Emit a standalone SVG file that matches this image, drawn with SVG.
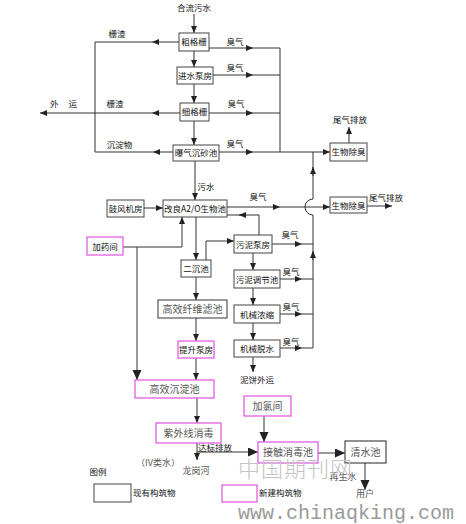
<svg xmlns="http://www.w3.org/2000/svg" width="466" height="524" viewBox="0 0 466 524">
<defs>
<marker id="a" markerUnits="userSpaceOnUse" markerWidth="8" markerHeight="6" refX="7" refY="3" orient="auto"><path d="M0,0 L7,3 L0,6 z" fill="#222"/></marker>
<marker id="A" markerUnits="userSpaceOnUse" markerWidth="10" markerHeight="10" refX="10" refY="4.5" orient="auto"><path d="M0,0 L10,4.5 L0,9 z" fill="#222"/></marker>
<style>
.b{fill:#fff;stroke:#444;stroke-width:1}
.n{fill:#fff;stroke:#e45ee4;stroke-width:1.3}
.t{font-family:"Noto Sans CJK SC","Liberation Sans",sans-serif;font-size:8.5px;fill:#111;text-anchor:middle}
.s{font-family:"Noto Sans CJK SC","Liberation Serif",serif;font-size:10px;fill:#555;text-anchor:middle}
.l{fill:none;stroke:#333;stroke-width:1}
.m{marker-mid:url(#a)}
.e{marker-end:url(#a)}
.E{marker-end:url(#A)}
</style>
</defs>
<g id="connectors">
<path class="l e" d="M194,14 V33"/>
<path class="l e" d="M194,51 V67"/>
<path class="l e" d="M194,84 V103"/>
<path class="l e" d="M194,121 V145"/>
<path class="l e" d="M195,161 V200"/>
<path class="l m" d="M179,42 L152,42 L95,42"/>
<path class="l" d="M95,42 V152"/>
<path class="l m" d="M173,152 L153,152 L95,152"/>
<path class="l m e" d="M180,113 L152,113 L40,113"/>
<path class="l m" d="M209,48 L253,48 L280,48"/>
<path class="l m" d="M213,75 L253,75 L280,75"/>
<path class="l m" d="M209,113 L253,113 L280,113"/>
<path class="l m e" d="M219,152 L253,152 L330,152"/>
<path class="l" d="M280,48 V152"/>
<path class="l e" d="M349,143 V127"/>
<path class="l" d="M313,152 V199 A8,8 0 0 0 313,215 V348"/>
<path class="l e" d="M313,176 V167"/>
<path class="l e" d="M313,260 V251"/>
<path class="l m e" d="M227,207 L280,207 L330,207"/>
<path class="l e" d="M367,206 H392"/>
<path class="l e" d="M144,208 H163"/>
<path class="l e" d="M123,247 H182 V217"/>
<path class="l E" d="M137,247 V380"/>
<path class="l e" d="M196,217 V260"/>
<path class="l" d="M259,235 V215 H227"/>
<path class="l e" d="M246,215 H239"/>
<path class="l e" d="M206,260 V241 H234"/>
<path class="l m" d="M272,244 L302,244 L313,244"/>
<path class="l e" d="M253,253 V270"/>
<path class="l m" d="M280,279 L302,279 L313,279"/>
<path class="l e" d="M253,288 V305"/>
<path class="l m" d="M280,314 L302,314 L313,314"/>
<path class="l e" d="M253,323 V340"/>
<path class="l m" d="M280,348 L302,348 L313,348"/>
<path class="l e" d="M253,357 V372"/>
<path class="l e" d="M196,277 V300"/>
<path class="l e" d="M196,318 V341"/>
<path class="l e" d="M196,358 V380"/>
<path class="l e" d="M197,398 V423"/>
<path class="l e" d="M197,443 V460"/>
<path class="l E" d="M197,452 H258"/>
<path class="l E" d="M264,416 V442"/>
<path class="l E" d="M318,453 H345"/>
<path class="l E" d="M365,463 V490"/>
</g>
<g id="n1"><rect class="b" x="179" y="33" width="30" height="18"/><text class="t" x="194" y="45">粗格栅</text></g>
<g id="n2"><rect class="b" x="177" y="67" width="36" height="17"/><text class="t" x="195" y="79">进水泵房</text></g>
<g id="n3"><rect class="b" x="180" y="103" width="29" height="18"/><text class="t" x="194.5" y="115">细格栅</text></g>
<g id="n4"><rect class="b" x="173" y="145" width="46" height="16"/><text class="t" x="196" y="156">曝气沉砂池</text></g>
<g id="n5"><rect class="b" x="330" y="143" width="37" height="18"/><text class="t" x="348.5" y="155">生物除臭</text></g>
<g id="n6"><rect class="b" x="330" y="197" width="37" height="16"/><text class="t" x="348.5" y="208.5">生物除臭</text></g>
<g id="n7"><rect class="b" x="107" y="200" width="37" height="17"/><text class="t" x="125.5" y="211.5">鼓风机房</text></g>
<g id="n8"><rect class="b" x="163" y="200" width="64" height="17"/><text class="t" x="195" y="211.5">改良A2/O生物池</text></g>
<g id="n9"><rect class="n" x="87" y="237" width="36" height="18"/><text class="t" x="105" y="249.5">加药间</text></g>
<g id="n10"><rect class="b" x="181" y="260" width="30" height="17"/><text class="t" x="196" y="271.5">二沉池</text></g>
<g id="n11"><rect class="b" x="234" y="235" width="38" height="18"/><text class="t" x="253" y="247.5">污泥泵房</text></g>
<g id="n12"><rect class="b" x="234" y="270" width="46" height="18"/><text class="t" x="257" y="282.5">污泥调节池</text></g>
<g id="n13"><rect class="b" x="234" y="305" width="46" height="18"/><text class="t" x="257" y="317.5">机械浓缩</text></g>
<g id="n14"><rect class="b" x="234" y="340" width="46" height="17"/><text class="t" x="257" y="352">机械脱水</text></g>
<g id="n15"><rect class="b" x="158" y="300" width="69" height="18" style="stroke:#3a303a"/><text class="s" x="192.5" y="313">高效纤维滤池</text></g>
<g id="n16"><rect class="n" x="178" y="341" width="36" height="17"/><text class="t" x="196" y="353">提升泵房</text></g>
<g id="n17"><rect class="n" x="135" y="380" width="79" height="18"/><text class="s" x="174.5" y="393">高效沉淀池</text></g>
<g id="n18"><rect class="n" x="156" y="423" width="65" height="20"/><text class="s" x="188.5" y="437">紫外线消毒</text></g>
<g id="n19"><rect class="n" x="244" y="396" width="47" height="20"/><text class="s" x="267.5" y="410">加氯间</text></g>
<g id="n20"><rect class="n" x="258" y="442" width="60" height="21"/><text class="s" x="288" y="456">接触消毒池</text></g>
<g id="n21"><rect class="b" x="345" y="441" width="41" height="22" style="stroke:#222"/><text class="s" x="365.5" y="455.5">清水池</text></g>
<g id="labels">
<text class="t" x="194" y="11">合流污水</text>
<text class="t" x="117" y="37">栅渣</text>
<text class="t" x="115" y="107">栅渣</text>
<text class="t" x="50" y="107" style="text-anchor:start;word-spacing:8px">外 运</text>
<text class="t" x="119.5" y="148">沉淀物</text>
<text class="t" x="235" y="45">臭气</text>
<text class="t" x="235" y="71">臭气</text>
<text class="t" x="236" y="107">臭气</text>
<text class="t" x="235" y="147">臭气</text>
<text class="t" x="258" y="200">臭气</text>
<text class="t" x="290" y="238">臭气</text>
<text class="t" x="291" y="275">臭气</text>
<text class="t" x="291" y="310">臭气</text>
<text class="t" x="291" y="345">臭气</text>
<text class="t" x="206" y="190">污水</text>
<text class="t" x="350" y="123">尾气排放</text>
<text class="t" x="386" y="201">尾气排放</text>
<text class="t" x="257" y="383">泥饼外运</text>
<text class="t" x="198" y="451" style="text-anchor:start">达标排放</text>
<text class="s" x="158" y="466" style="font-size:9px">（IV类水）</text>
<text class="s" x="196" y="474" style="font-size:9px">龙岗河</text>
<text class="s" x="343" y="480" style="font-size:9px">再生水</text>
<text class="s" x="365" y="497" style="font-size:9px">用户</text>
</g>
<g id="legend">
<text class="t" x="98" y="475">图例</text>
<rect class="b" x="94" y="484" width="37" height="18"/>
<text class="t" x="133" y="496" style="text-anchor:start">现有构筑物</text>
<rect class="n" x="222" y="485" width="35" height="17"/>
<text class="t" x="259" y="496" style="text-anchor:start">新建构筑物</text>
</g>
<g id="watermark">
<text x="238" y="477" style="font-family:'Noto Sans CJK SC',sans-serif;font-size:22px;fill:#c4c4c4;letter-spacing:1px;font-weight:300">中国期刊网</text>
<text x="238" y="519" style="font-family:'Liberation Mono',monospace;font-size:20px;fill:#9a9a9a">www.chinaqking.com</text>
</g>
</svg>
